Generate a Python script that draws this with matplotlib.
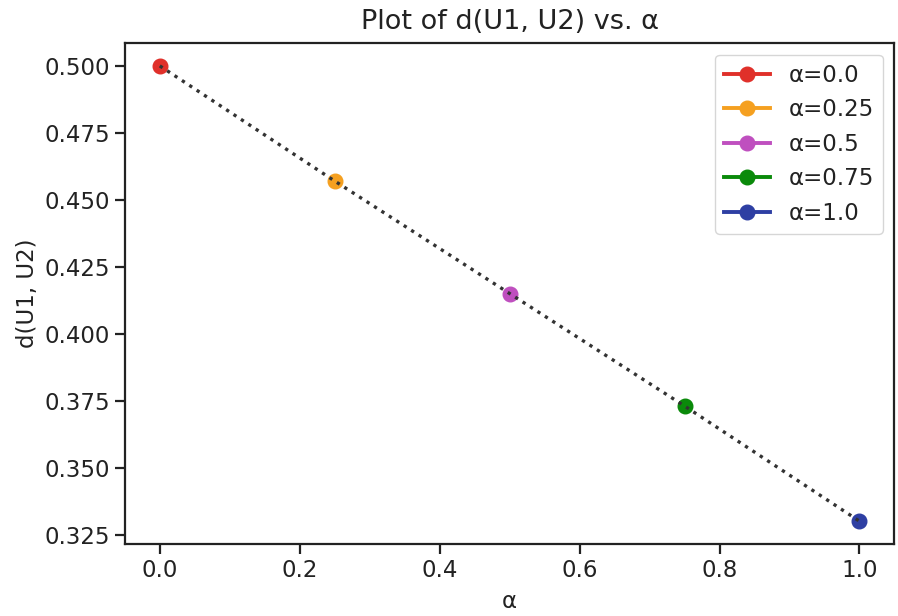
import matplotlib.pyplot as plt
import numpy as np

alphas = [0.0, 0.25, 0.5, 0.75, 1.0]
dists = [0.500, 0.457, 0.415, 0.373, 0.330]
colors = ['#e0302a', '#f5a020', '#bf4fbf', '#0a8a0a', '#2e3fa3']

plt.rcParams['font.size'] = 16.5
plt.rcParams['text.color'] = '#222222'
plt.rcParams['xtick.color'] = '#222222'
plt.rcParams['ytick.color'] = '#222222'
plt.rcParams['axes.labelcolor'] = '#222222'

fig = plt.figure(figsize=(8.98, 6.16), dpi=100)
ax = fig.add_axes([0.139, 0.117, 0.857, 0.813])

for a, d, c in zip(alphas, dists, colors):
    ax.plot([a], [d], '-o', color=c, markersize=10.5, linewidth=2.8, label=f'α={a}')
ax.plot(alphas, dists, ':', color='#333333', linewidth=2.4)

for s in ax.spines.values():
    s.set_linewidth(1.6)
    s.set_color('#222222')
ax.tick_params(width=1.6, length=7, labelsize=16.5)
ax.set_xticks(np.arange(0, 1.01, 0.2))
ax.set_yticks(np.arange(0.325, 0.501, 0.025))

ax.set_title('Plot of d(U1, U2) vs. α', fontsize=19.5, pad=10)
ax.set_xlabel('α', fontsize=16.5, labelpad=6)
ax.set_ylabel('d(U1, U2)', fontsize=16.5)
ax.legend(loc='upper right', fontsize=16.5, handlelength=2.0, borderaxespad=0.5)

fig.savefig('out.png', dpi=100)
